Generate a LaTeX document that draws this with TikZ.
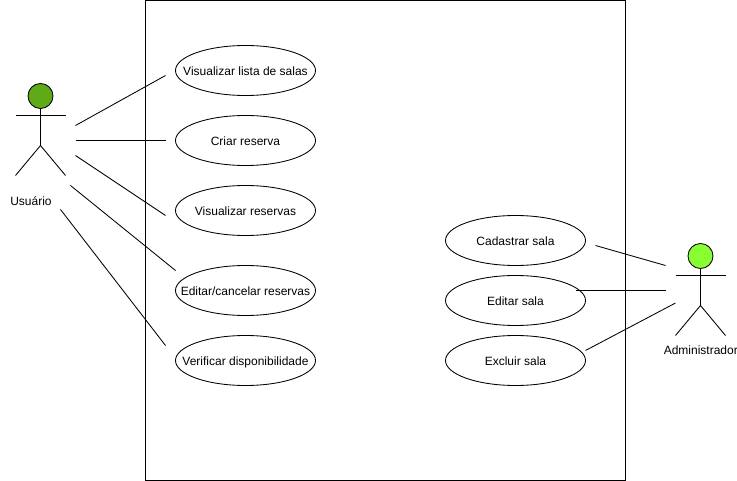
\documentclass[tikz,border=0pt]{standalone}
\usepackage{fontspec}
\setmainfont{Liberation Sans}
\usetikzlibrary{shapes.geometric}
\definecolor{headuser}{HTML}{60A917}
\definecolor{headadmin}{HTML}{88FF33}
\tikzset{
  usecase/.style={ellipse,draw,minimum width=140pt,minimum height=50pt,inner xsep=-20pt,inner ysep=0pt,text height=10pt,text depth=0pt,font=\fontsize{12}{14}\selectfont},
  label/.style={font=\fontsize{12}{14}\selectfont,inner sep=0pt},
  link/.style={line width=0.85pt},
}
\begin{document}
\begin{tikzpicture}[x=1pt,y=-1pt,line width=0.85pt]
\useasboundingbox (0,0) rectangle (737,481);
\node (system) [draw,minimum width=480pt,minimum height=480pt,inner sep=0pt] at (385,240.5) {};
% use cases
\node (lista) [usecase] at (245.5,70.5) {Visualizar lista de salas};
\node (criar) [usecase] at (245.5,140.5) {Criar reserva};
\node (reservas) [usecase] at (245.5,210.5) {Visualizar reservas};
\node (editar) [usecase] at (245.5,290.5) {Editar/cancelar reservas};
\node (verificar) [usecase] at (245.5,360.5) {Verificar disponibilidade};
\node (cadastrar) [usecase] at (515.5,240.5) {Cadastrar sala};
\node (editarsala) [usecase] at (515.5,300.5) {Editar sala};
\node (excluir) [usecase] at (515.5,360.5) {Excluir sala};
% actors
\node (usuario) [circle,draw,fill=headuser,minimum size=25pt,inner sep=0pt] at (40.5,96) {};
\coordinate (uhip) at (40.5,145.5);
\draw (usuario) -- (uhip);
\draw (15.5,115.5) -- (65.5,115.5);
\draw (15.5,175.5) -- (uhip) -- (65.5,175.5);
\node (ulabel) [label] at (31,201) {Usuário};
\node (admin) [circle,draw,fill=headadmin,minimum size=25pt,inner sep=0pt] at (700.5,256) {};
\coordinate (ahip) at (700.5,305.5);
\draw (admin) -- (ahip);
\draw (675.5,275.5) -- (725.5,275.5);
\draw (675.5,335.5) -- (ahip) -- (725.5,335.5);
\node (alabel) [label] at (700.8,350) {Administrador};
% free ends of the links
\coordinate (u1) at (75.5,125.5);
\coordinate (u2) at (75.5,140.5);
\coordinate (u3) at (75.5,155.5);
\coordinate (u4) at (70.5,185.5);
\coordinate (u5) at (60.5,209.5);
\coordinate (c1) at (165.5,75.5);
\coordinate (c2) at (165.5,140.5);
\coordinate (c3) at (165.5,215.5);
\coordinate (c4) at (175.5,270.5);
\coordinate (c5) at (165.5,345.5);
\coordinate (a1) at (665.5,265.5);
\coordinate (a2) at (665.5,290.5);
\coordinate (a3) at (675.5,303);
\coordinate (d1) at (595.5,245.5);
\coordinate (d2) at (575.5,290.5);
\coordinate (d3) at (585.5,350.5);
\draw[link] (u1) -- (c1);
\draw[link] (u2) -- (c2);
\draw[link] (u3) -- (c3);
\draw[link] (u4) -- (c4);
\draw[link] (u5) -- (c5);
\draw[link] (d1) -- (a1);
\draw[link] (d2) -- (a2);
\draw[link] (d3) -- (a3);
\end{tikzpicture}
\end{document}
